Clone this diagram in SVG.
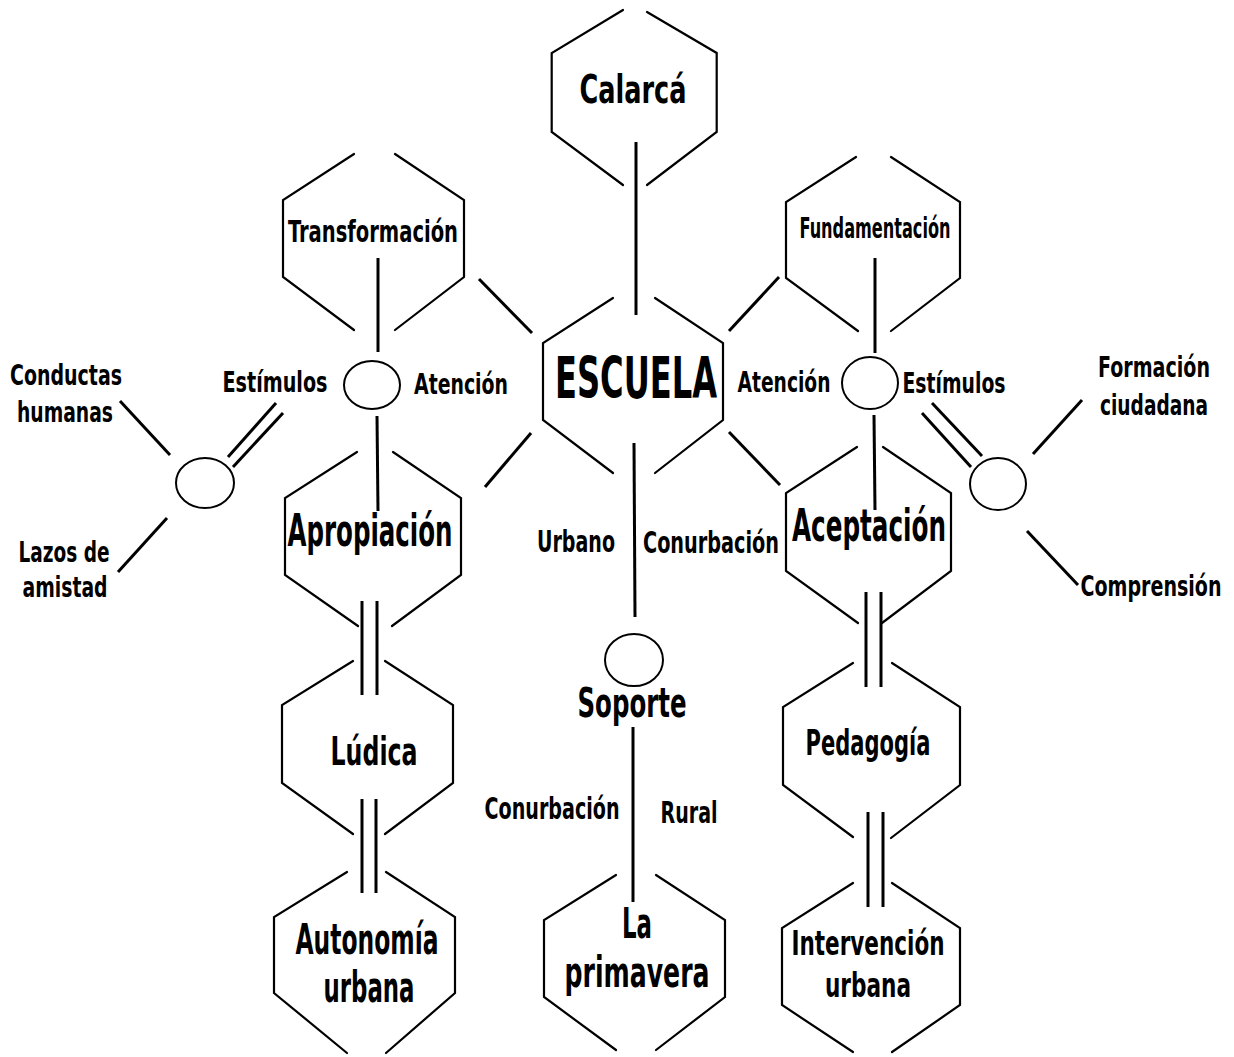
<svg xmlns="http://www.w3.org/2000/svg" width="1234" height="1057" viewBox="0 0 1234 1057">
<style>
.hex{fill:none;stroke:#000;stroke-width:2.2;stroke-linecap:round;stroke-linejoin:miter}
.ell{fill:#fff;stroke:#000;stroke-width:2}
.con{stroke:#000;stroke-width:3;fill:none;stroke-linecap:butt}
text{font-family:"Liberation Sans Narrow","DejaVu Sans Condensed","Roboto Condensed","Liberation Sans",sans-serif;font-weight:bold;font-stretch:condensed;text-anchor:middle;fill:#000}
</style>
<rect width="1234" height="1057" fill="#fff"/>
<g id="connectors">
<line class="con" x1="636" y1="142" x2="636" y2="315"/>
<line class="con" x1="634" y1="443" x2="635" y2="617"/>
<line class="con" x1="633" y1="727" x2="633" y2="902"/>
<line class="con" x1="479" y1="279" x2="532" y2="333"/>
<line class="con" x1="531" y1="433" x2="485" y2="487"/>
<line class="con" x1="729" y1="331" x2="779" y2="277"/>
<line class="con" x1="729" y1="432" x2="780" y2="485"/>
<line class="con" x1="378" y1="258" x2="378" y2="352"/>
<line class="con" x1="377" y1="416" x2="378" y2="511"/>
<line class="con" x1="875" y1="258" x2="875" y2="353"/>
<line class="con" x1="874" y1="415" x2="875" y2="510"/>
<line class="con" x1="362" y1="601" x2="362" y2="695"/>
<line class="con" x1="377" y1="601" x2="377" y2="695"/>
<line class="con" x1="362" y1="799" x2="362" y2="893"/>
<line class="con" x1="376" y1="799" x2="376" y2="893"/>
<line class="con" x1="866" y1="592" x2="866" y2="687"/>
<line class="con" x1="881" y1="592" x2="881" y2="687"/>
<line class="con" x1="868" y1="812" x2="868" y2="907"/>
<line class="con" x1="883" y1="812" x2="883" y2="907"/>
<line class="con" x1="276" y1="403" x2="228" y2="457"/>
<line class="con" x1="283" y1="413" x2="233" y2="467"/>
<line class="con" x1="120" y1="401" x2="170" y2="455"/>
<line class="con" x1="167" y1="518" x2="118" y2="572"/>
<line class="con" x1="932" y1="403" x2="982" y2="456"/>
<line class="con" x1="922" y1="413" x2="971" y2="467"/>
<line class="con" x1="1082" y1="400" x2="1033" y2="454"/>
<line class="con" x1="1027" y1="531" x2="1078" y2="585"/>
</g>
<g id="calarca">
<path class="hex" d="M623 10 L551.7 53 L551.7 132 L623 185 M647 12 L716.7 53 L716.7 132 L647 185"/>
<text transform="translate(633,103) scale(0.67,1)" font-size="39" textLength="159.7" lengthAdjust="spacingAndGlyphs">Calarcá</text>
</g>
<g id="transformacion">
<path class="hex" d="M354 154 L283 200 L283 277 L354 330 M395 154 L464 200 L464 277 L395 330"/>
<text transform="translate(373,242) scale(0.65,1)" font-size="30" textLength="261.5" lengthAdjust="spacingAndGlyphs">Transformación</text>
</g>
<g id="escuela">
<path class="hex" d="M613 298 L543 343 L543 420 L613 473 M655 298 L723 343 L723 420 L655 473"/>
<text transform="translate(636,398) scale(0.58,1)" font-size="57" textLength="279.3" lengthAdjust="spacingAndGlyphs">ESCUELA</text>
</g>
<g id="fundamentacion">
<path class="hex" d="M856 157 L786 202 L786 278 L858 331 M891 157 L960 202 L960 278 L891 331"/>
<text transform="translate(875,238) scale(0.59,1)" font-size="28" textLength="255.9" lengthAdjust="spacingAndGlyphs">Fundamentación</text>
</g>
<g id="apropiacion">
<path class="hex" d="M357 452 L285 498 L285 575 L358 626 M393 452 L461 498 L461 575 L392 626"/>
<text transform="translate(370,546) scale(0.57,1)" font-size="44" textLength="289.5" lengthAdjust="spacingAndGlyphs">Apropiación</text>
</g>
<g id="ludica">
<path class="hex" d="M353 661 L282 705 L282 783 L353 834 M385 661 L453 705 L453 783 L385 834"/>
<text transform="translate(374,765) scale(0.62,1)" font-size="39" textLength="140.3" lengthAdjust="spacingAndGlyphs">Lúdica</text>
</g>
<g id="autonomia">
<path class="hex" d="M347 872 L274 917 L274 993 L347 1053 M386 872 L455 917 L455 993 L386 1053"/>
<text transform="translate(367,954) scale(0.56,1)" font-size="43" textLength="255.4" lengthAdjust="spacingAndGlyphs">Autonomía</text>
<text transform="translate(369,1002) scale(0.54,1)" font-size="43" textLength="168.5" lengthAdjust="spacingAndGlyphs">urbana</text>
</g>
<g id="primavera">
<path class="hex" d="M616 875 L544 920 L544 997 L616 1050 M656 875 L725 920 L725 997 L656 1050"/>
<text transform="translate(637,938) scale(0.55,1)" font-size="42" textLength="54.5" lengthAdjust="spacingAndGlyphs">La</text>
<text transform="translate(637,987) scale(0.62,1)" font-size="42" textLength="233.9" lengthAdjust="spacingAndGlyphs">primavera</text>
</g>
<g id="aceptacion">
<path class="hex" d="M857 447 L786 493 L786 571 L858 623 M883 447 L951 493 L951 571 L882 623"/>
<text transform="translate(869,541) scale(0.57,1)" font-size="44" textLength="270.2" lengthAdjust="spacingAndGlyphs">Aceptación</text>
</g>
<g id="pedagogia">
<path class="hex" d="M853 663 L783 707 L783 785 L853 837 M892 663 L960 707 L960 785 L891 838"/>
<text transform="translate(868,755) scale(0.6,1)" font-size="36" textLength="208.3" lengthAdjust="spacingAndGlyphs">Pedagogía</text>
</g>
<g id="intervencion">
<path class="hex" d="M853 883 L782 928 L782 1005 L853 1052 M892 883 L960 928 L960 1005 L892 1052"/>
<text transform="translate(868,955) scale(0.66,1)" font-size="33" textLength="231.8" lengthAdjust="spacingAndGlyphs">Intervención</text>
<text transform="translate(868,997) scale(0.67,1)" font-size="33" textLength="128.4" lengthAdjust="spacingAndGlyphs">urbana</text>
</g>
<g id="circulo-estimulos-izq">
<ellipse class="ell" cx="372" cy="385" rx="28" ry="24"/>
</g>
<g id="circulo-estimulos-der">
<ellipse class="ell" cx="870" cy="383" rx="28" ry="26"/>
</g>
<g id="circulo-conductas">
<ellipse class="ell" cx="205" cy="483" rx="29" ry="25"/>
</g>
<g id="circulo-formacion">
<ellipse class="ell" cx="998" cy="484" rx="28" ry="26"/>
</g>
<g id="soporte">
<ellipse class="ell" cx="634" cy="660" rx="29" ry="26"/>
<text transform="translate(632,717) scale(0.61,1)" font-size="41" textLength="178.7" lengthAdjust="spacingAndGlyphs">Soporte</text>
</g>
<g id="labels">
<text transform="translate(66,385) scale(0.69,1)" font-size="28" textLength="162.3" lengthAdjust="spacingAndGlyphs">Conductas</text>
<text transform="translate(65,422) scale(0.68,1)" font-size="28" textLength="141.2" lengthAdjust="spacingAndGlyphs">humanas</text>
<text transform="translate(275,392) scale(0.67,1)" font-size="29" textLength="156.7" lengthAdjust="spacingAndGlyphs">Estímulos</text>
<text transform="translate(461,394) scale(0.66,1)" font-size="29" textLength="142.4" lengthAdjust="spacingAndGlyphs">Atención</text>
<text transform="translate(784,392) scale(0.66,1)" font-size="29" textLength="140.9" lengthAdjust="spacingAndGlyphs">Atención</text>
<text transform="translate(954,393) scale(0.67,1)" font-size="29" textLength="153.7" lengthAdjust="spacingAndGlyphs">Estímulos</text>
<text transform="translate(1154,377) scale(0.67,1)" font-size="29" textLength="167.2" lengthAdjust="spacingAndGlyphs">Formación</text>
<text transform="translate(1154,415) scale(0.65,1)" font-size="29" textLength="166.2" lengthAdjust="spacingAndGlyphs">ciudadana</text>
<text transform="translate(1151,596) scale(0.67,1)" font-size="29" textLength="210.4" lengthAdjust="spacingAndGlyphs">Comprensión</text>
<text transform="translate(64,562) scale(0.65,1)" font-size="29" textLength="140" lengthAdjust="spacingAndGlyphs">Lazos de</text>
<text transform="translate(65,597) scale(0.66,1)" font-size="29" textLength="128.8" lengthAdjust="spacingAndGlyphs">amistad</text>
<text transform="translate(576,552) scale(0.63,1)" font-size="31" textLength="123.8" lengthAdjust="spacingAndGlyphs">Urbano</text>
<text transform="translate(711,553) scale(0.63,1)" font-size="31" textLength="215.9" lengthAdjust="spacingAndGlyphs">Conurbación</text>
<text transform="translate(552,819) scale(0.65,1)" font-size="30" textLength="207.7" lengthAdjust="spacingAndGlyphs">Conurbación</text>
<text transform="translate(689,823) scale(0.63,1)" font-size="31" textLength="90.5" lengthAdjust="spacingAndGlyphs">Rural</text>
</g>
</svg>
